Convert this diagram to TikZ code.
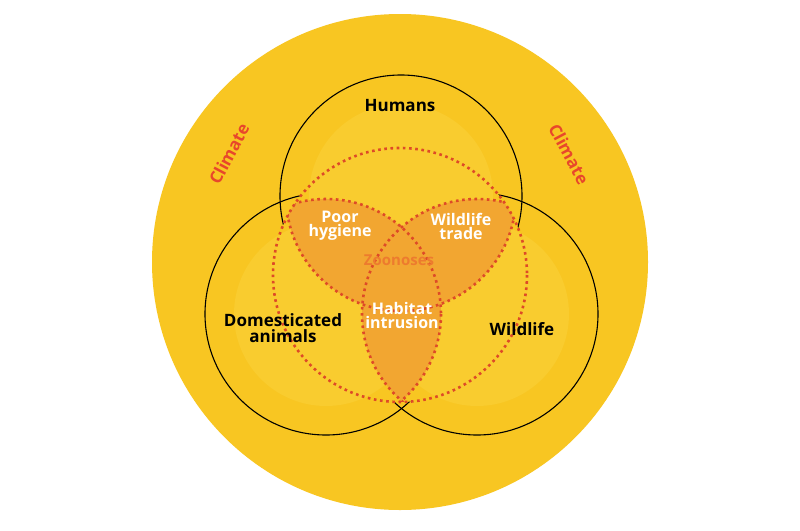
\documentclass[tikz,border=0pt]{standalone}
\usepackage{fontspec}
\setmainfont{Open Sans}
\begin{document}
\begin{tikzpicture}[x=1pt,y=-1pt,
  lbl/.style={font=\bfseries\fontsize{17}{19}\selectfont, text=black, align=center},
  wlbl/.style={font=\bfseries\fontsize{16}{17}\selectfont, text=white, align=center},
  clim/.style={font=\bfseries\fontsize{17}{19}\selectfont, text=climred},
  dots/.style={draw=dotred, line width=2.6pt, dash pattern=on 2.6pt off 3.6pt},
  ring/.style={draw=black, line width=1.1pt},
  hl/.style={fill=lightyel, opacity=0.5}]
\definecolor{bigyel}{HTML}{F8C622}
\definecolor{lightyel}{HTML}{FAD23C}
\definecolor{lensor}{HTML}{F2A631}
\definecolor{dotred}{HTML}{DE4A27}
\definecolor{climred}{HTML}{E8472B}
\useasboundingbox (0,0) rectangle (800,530);
\fill[white] (0,0) rectangle (800,530);
\fill[bigyel] (400,262) circle (248);
\fill[hl] (401,196) circle (92);
\fill[hl] (326,314) circle (92);
\fill[hl] (477,314) circle (92);
% black circles
\draw[ring] (401,196) circle (121);
\draw[ring] (326,314) circle (121);
\draw[ring] (477,314) circle (121);
% ring interior hides black circles
\fill[bigyel] (400,275) circle (127);
\begin{scope}
  \clip (400,275) circle (127);
  \fill[hl] (401,196) circle (92);
  \fill[hl] (326,314) circle (92);
  \fill[hl] (477,314) circle (92);
  \begin{scope}\clip (401,196) circle (115); \fill[lensor] (326,314) circle (115); \end{scope}
  \begin{scope}\clip (401,196) circle (115); \fill[lensor] (477,314) circle (115); \end{scope}
  \begin{scope}\clip (326,314) circle (115); \fill[lensor] (477,314) circle (115); \end{scope}
  \draw[dots] (401,196) circle (115);
  \draw[dots] (326,314) circle (115);
  \draw[dots] (477,314) circle (115);
\end{scope}
\draw[dots] (400,275) circle (127);
% labels
\node[lbl] (hum) at (400,106) {Humans};
\node[lbl] (dom) at (283,328) {Domesticated\\[-3pt]animals};
\node[lbl] (wild) at (522,329) {Wildlife};
\node[wlbl] (poor) at (340,226) {Poor\\[-3pt]hygiene};
\node[wlbl] (trade) at (461,226) {Wildlife\\[-3pt]trade};
\node[wlbl] (hab) at (402,315) {Habitat\\[-3pt]intrusion};
\node[font=\bfseries\fontsize{15}{17}\selectfont, text=climred!45!lensor] (zoo) at (399,260) {Zoonoses};
\node[clim, rotate=62] (cl1) at (229,154) {Climate};
\node[clim, rotate=-62] (cl2) at (569,154) {Climate};
\end{tikzpicture}
\end{document}
